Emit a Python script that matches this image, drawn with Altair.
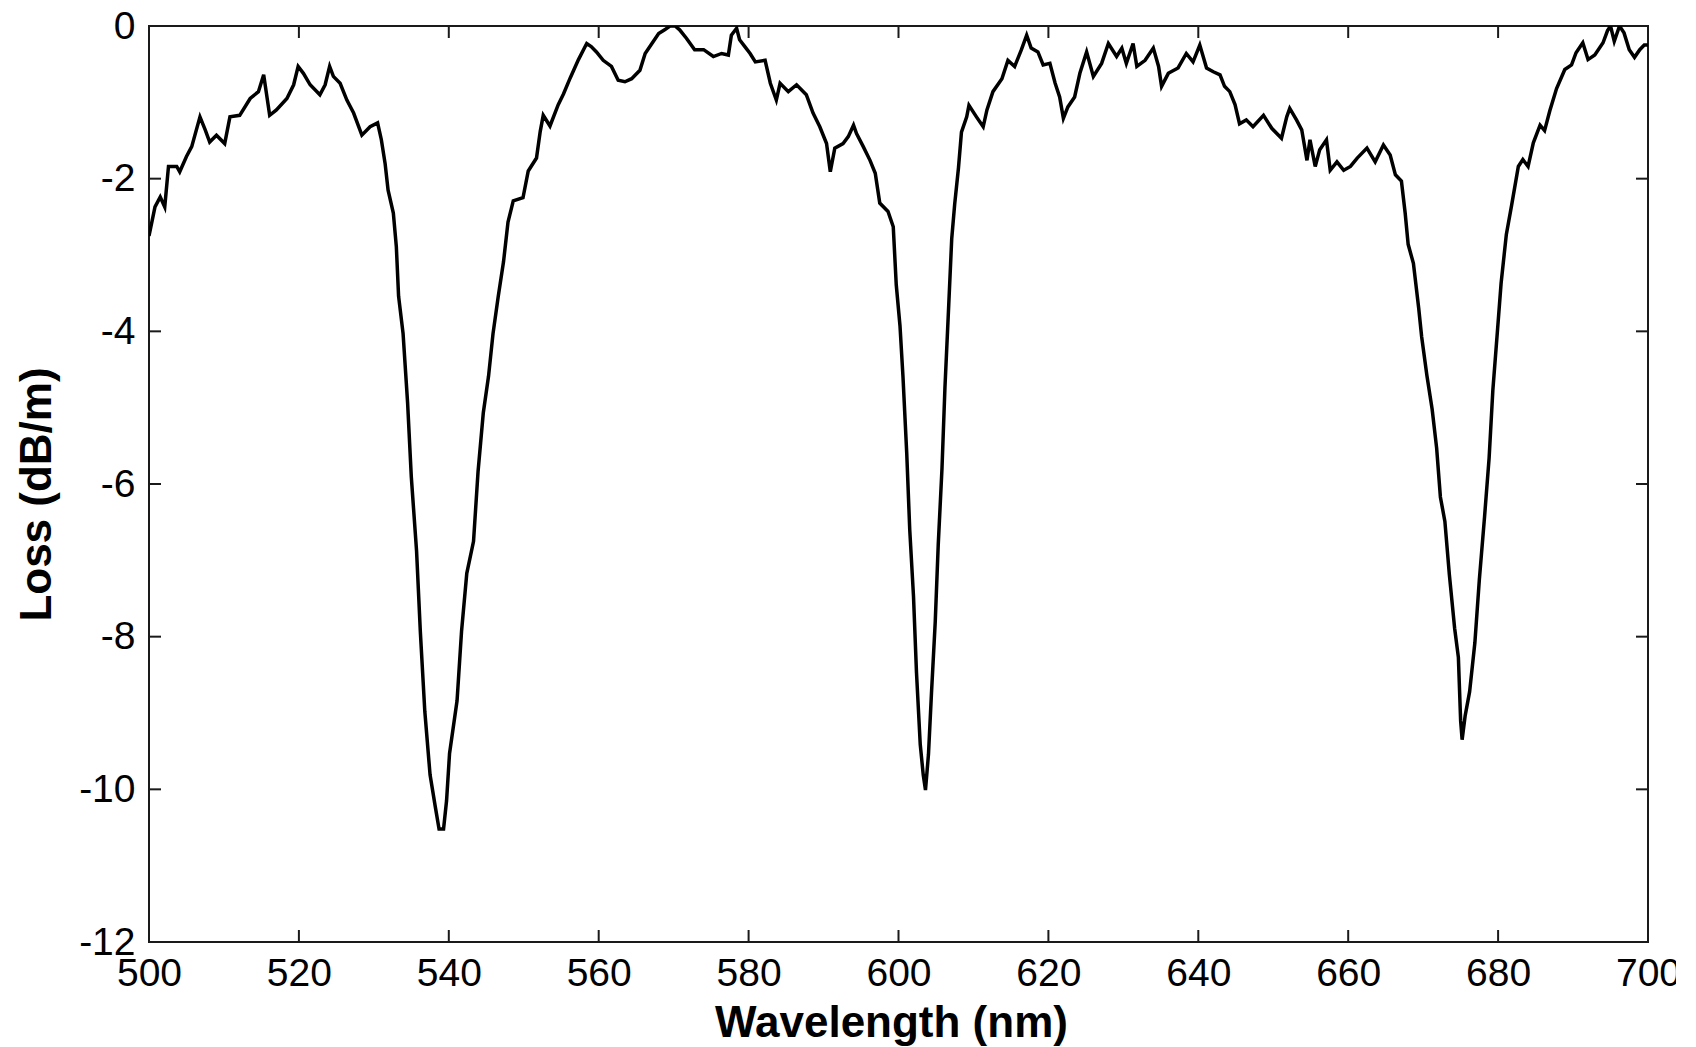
import altair as alt
import pandas as pd

wavelength = [
    500.0, 500.8, 501.5, 502.1, 502.6, 503.7, 504.1, 505.0, 505.7, 506.8, 507.5, 508.1, 509.0, 510.1,
    510.8, 512.1, 513.5, 514.6, 515.3, 516.1, 517.0, 518.4, 519.3, 519.9, 520.6, 521.5, 522.8, 523.5,
    524.1, 524.6, 525.5, 526.4, 527.3, 528.4, 529.5, 530.5, 531.0, 531.5, 531.9, 532.6, 533.0, 533.3,
    533.9, 534.5, 535.0, 535.7, 536.2, 536.8, 537.5, 538.2, 538.7, 539.3, 539.7, 540.1, 541.1, 541.7,
    542.4, 543.3, 543.9, 544.6, 545.3, 545.9, 546.6, 547.3, 547.9, 548.6, 549.9, 550.6, 551.7, 552.2,
    552.6, 553.5, 554.6, 555.3, 556.2, 557.3, 558.4, 559.0, 559.7, 560.6, 561.7, 562.6, 563.5, 564.4,
    565.5, 566.2, 567.1, 568.0, 568.8, 569.5, 570.2, 570.8, 571.7, 572.8, 574.0, 575.3, 576.4, 577.3,
    577.7, 578.4, 578.8, 579.5, 580.2, 580.9, 582.2, 582.9, 583.7, 584.2, 585.3, 586.4, 587.7, 588.6,
    589.5, 590.4, 590.9, 591.5, 592.6, 593.3, 594.0, 594.4, 595.3, 596.2, 596.9, 597.5, 598.6, 599.3,
    599.7, 600.2, 600.6, 601.1, 601.5, 602.0, 602.4, 602.9, 603.3, 603.6, 604.0, 604.4, 604.9, 605.3,
    605.8, 606.2, 606.7, 607.1, 607.5, 608.0, 608.4, 609.1, 609.4, 610.4, 611.3, 611.8, 612.6, 613.8,
    614.6, 615.5, 616.4, 617.1, 617.7, 618.6, 619.3, 620.2, 620.9, 621.5, 622.0, 622.6, 623.5, 624.2,
    625.1, 626.0, 627.1, 628.0, 629.1, 629.8, 630.4, 631.3, 631.8, 632.9, 634.0, 634.7, 635.1, 636.0,
    637.3, 638.4, 639.3, 640.2, 641.1, 642.0, 642.9, 643.5, 644.2, 644.9, 645.5, 646.4, 647.3, 648.7,
    649.8, 651.1, 651.8, 652.2, 653.1, 653.8, 654.5, 654.9, 655.6, 656.2, 657.1, 657.6, 658.5, 659.4,
    660.3, 661.2, 662.5, 663.6, 664.7, 665.6, 666.3, 667.1, 667.6, 668.0, 668.7, 669.4, 669.8, 670.5,
    671.2, 671.8, 672.3, 672.9, 673.5, 674.2, 674.7, 675.0, 675.2, 675.6, 676.2, 676.9, 677.5, 678.2,
    678.8, 679.3, 679.9, 680.4, 681.1, 681.8, 682.7, 683.3, 684.0, 684.7, 685.6, 686.2, 686.9, 687.8,
    688.9, 689.8, 690.4, 691.3, 692.0, 692.9, 694.0, 694.6, 695.0, 695.5, 696.2, 696.8, 697.5, 698.2,
    698.9, 699.5, 700.0,
]

loss = [
    -2.75, -2.37, -2.24, -2.37, -1.84, -1.84, -1.91, -1.71, -1.58, -1.19, -1.36, -1.52, -1.43, -1.54,
    -1.19, -1.17, -0.95, -0.86, -0.64, -1.17, -1.10, -0.95, -0.77, -0.53, -0.62, -0.77, -0.90, -0.77,
    -0.53, -0.66, -0.75, -0.97, -1.14, -1.43, -1.32, -1.27, -1.49, -1.80, -2.15, -2.45, -2.89, -3.54,
    -4.03, -4.93, -5.91, -6.88, -7.93, -8.98, -9.81, -10.23, -10.52, -10.52, -10.15, -9.53, -8.84, -7.93,
    -7.17, -6.75, -5.84, -5.07, -4.59, -4.03, -3.54, -3.09, -2.57, -2.29, -2.25, -1.90, -1.73, -1.38,
    -1.17, -1.31, -1.03, -0.89, -0.68, -0.44, -0.23, -0.27, -0.34, -0.45, -0.53, -0.71, -0.73, -0.69,
    -0.58, -0.36, -0.23, -0.10, -0.05, 0.0, 0.0, -0.05, -0.16, -0.31, -0.31, -0.40, -0.36, -0.38,
    -0.12, -0.03, -0.18, -0.27, -0.36, -0.47, -0.45, -0.75, -0.97, -0.75, -0.86, -0.77, -0.90, -1.14,
    -1.32, -1.54, -1.91, -1.60, -1.54, -1.45, -1.30, -1.41, -1.58, -1.76, -1.93, -2.32, -2.43, -2.63,
    -3.39, -3.93, -4.60, -5.60, -6.60, -7.47, -8.47, -9.41, -9.81, -10.01, -9.54, -8.74, -7.81, -6.80,
    -5.80, -4.73, -3.66, -2.79, -2.33, -1.86, -1.39, -1.19, -1.04, -1.19, -1.32, -1.10, -0.86, -0.69,
    -0.45, -0.53, -0.31, -0.12, -0.29, -0.34, -0.51, -0.49, -0.75, -0.93, -1.21, -1.06, -0.93, -0.62,
    -0.34, -0.66, -0.49, -0.23, -0.40, -0.29, -0.49, -0.23, -0.53, -0.45, -0.29, -0.53, -0.79, -0.62,
    -0.55, -0.36, -0.47, -0.25, -0.55, -0.60, -0.64, -0.79, -0.86, -1.03, -1.28, -1.23, -1.32, -1.17,
    -1.34, -1.47, -1.19, -1.08, -1.23, -1.36, -1.76, -1.49, -1.84, -1.62, -1.49, -1.89, -1.78, -1.89,
    -1.84, -1.73, -1.60, -1.78, -1.56, -1.69, -1.95, -2.03, -2.45, -2.86, -3.11, -3.69, -4.07, -4.58,
    -5.02, -5.53, -6.17, -6.49, -7.19, -7.89, -8.27, -9.10, -9.35, -9.04, -8.72, -8.08, -7.25, -6.42,
    -5.66, -4.77, -4.01, -3.37, -2.73, -2.35, -1.84, -1.75, -1.84, -1.53, -1.30, -1.37, -1.11, -0.82,
    -0.57, -0.51, -0.35, -0.22, -0.44, -0.38, -0.22, -0.06, 0.0, -0.20, 0.0, -0.09, -0.31, -0.41,
    -0.31, -0.25, -0.25,
]

x_ticks = [500, 520, 540, 560, 580, 600, 620, 640, 660, 680, 700]
y_ticks = [0, -2, -4, -6, -8, -10, -12]

W, H = 1499, 916
TICK = 12
FONT = "Liberation Sans"
INK = "#1a1a1a"

df = pd.DataFrame({"wavelength": wavelength, "loss": loss})
xt = pd.DataFrame({"wavelength": x_ticks})
yt = pd.DataFrame({"loss": y_ticks})

xscale = alt.Scale(domain=[500, 700], nice=False, zero=False)
yscale = alt.Scale(domain=[-12, 0], nice=False, zero=False)

x_axis = alt.Axis(
    values=x_ticks, ticks=False, domain=False, grid=False,
    labelFont=FONT, labelFontSize=39, labelColor="black", labelPadding=12,
    labelFlush=False, labelOverlap=False, labelExpr="'' + datum.value",
    title="Wavelength (nm)", titleFont=FONT, titleFontSize=44, titleFontWeight="bold",
    titleColor="black", titleX=742, titleY=94, titleBaseline="alphabetic",
)
y_axis = alt.Axis(
    values=y_ticks, ticks=False, domain=False, grid=False,
    labelFont=FONT, labelFontSize=39, labelColor="black", labelPadding=14,
    labelFlush=False, labelOverlap=False, labelExpr="'' + datum.value",
    title="Loss (dB/m)", titleFont=FONT, titleFontSize=44, titleFontWeight="bold",
    titleColor="black", titleX=-99, titleY=468, titleAngle=270,
    titleBaseline="alphabetic",
)

line = alt.Chart(df).mark_line(color="black", strokeWidth=3.5, clip=True).encode(
    x=alt.X("wavelength:Q", scale=xscale, axis=x_axis),
    y=alt.Y("loss:Q", scale=yscale, axis=y_axis),
)

bottom_ticks = alt.Chart(xt).mark_rule(color=INK, strokeWidth=2).encode(
    x=alt.X("wavelength:Q", scale=xscale, axis=x_axis), y=alt.value(H), y2=alt.value(H - TICK)
)
top_ticks = alt.Chart(xt).mark_rule(color=INK, strokeWidth=2).encode(
    x=alt.X("wavelength:Q", scale=xscale, axis=x_axis), y=alt.value(0), y2=alt.value(TICK)
)
left_ticks = alt.Chart(yt).mark_rule(color=INK, strokeWidth=2).encode(
    y=alt.Y("loss:Q", scale=yscale, axis=y_axis), x=alt.value(0), x2=alt.value(TICK)
)
right_ticks = alt.Chart(yt).mark_rule(color=INK, strokeWidth=2).encode(
    y=alt.Y("loss:Q", scale=yscale, axis=y_axis), x=alt.value(W), x2=alt.value(W - TICK)
)

chart = (
    alt.layer(line, bottom_ticks, top_ticks, left_ticks, right_ticks)
    .properties(
        width=W,
        height=H,
        autosize="none",
        padding={"left": 149, "top": 26, "right": 28, "bottom": 105},
        background="white",
    )
    .configure_view(stroke=INK, strokeWidth=2)
)

chart.save("out.html", embed_options={"renderer": "svg", "actions": False})
